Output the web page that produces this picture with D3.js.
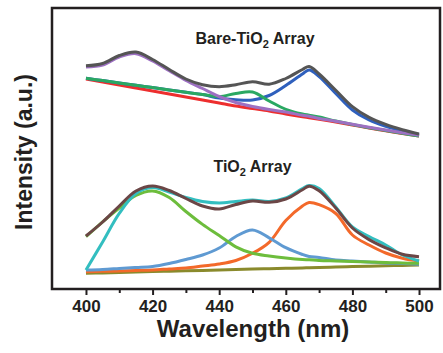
<!DOCTYPE html>
<html>
<head>
<meta charset="utf-8">
<script src="https://cdn.jsdelivr.net/npm/d3@7"></script>
<style>
  body { margin: 0; background: #fff; }
  text { font-family: "Liberation Sans", Arial, sans-serif; font-weight: bold; fill: #231f20; }
</style>
</head>
<body>
<div id="wrapper"></div>
<script>
// 1. Data (intensity in a.u.)

const wavelengths = [400, 405, 410, 415, 420, 425, 430, 435, 440, 445, 450, 455, 460, 465, 467, 470, 475, 480, 485, 490, 495, 500]

// Bare-TiO2 array (upper set)
const bareMeasured = [223.3, 225.5, 233.5, 236.9, 229.5, 219.5, 210, 204.3, 202.3, 204.3, 207.3, 204.8, 210.5, 219.5, 222.5, 215, 198.7, 182.3, 171.6, 164.6, 159.3, 155]
const barePeak415  = [222, 224, 232, 235.3, 228, 218.2, 208.6, 200.5, 192.5, 186.5, 182.5, 179.5, 177, 173.7, 172.7, 170.5, 167.8, 164.8, 161.8, 159, 156.3, 153.8]
const barePeak449  = [210.7, 208.4, 206, 203.7, 201.4, 199.1, 196.8, 194.4, 192.5, 195.5, 197, 188, 179.7, 175, 173.8, 172, 168, 164.5, 161.3, 158.5, 155.7, 153]
const barePeak467  = [210.7, 208.4, 206, 203.7, 201.4, 199.1, 196.8, 194.4, 191, 189.3, 189, 193.5, 203.5, 215, 219, 212.5, 195.5, 179, 169, 162.7, 158.2, 154]
const bareBaseline = [210, 207, 204, 201, 198, 195, 192, 189, 186, 183, 180.5, 178, 175, 172.3, 171.3, 169.7, 167, 164, 161, 158.3, 155.5, 153]

// TiO2 array (lower set)
const tio2Measured = [53, 67, 83, 98, 103, 98.5, 90.5, 83, 80, 84.5, 88, 86.7, 90, 99.3, 102.8, 98.2, 81, 61, 49.4, 41.2, 34.7, 32.3]
const tio2Fit      = [19, 47, 75.6, 95.5, 101.5, 97, 91.5, 87.5, 86, 87.5, 89, 87.5, 91, 100.5, 103.5, 100.5, 82, 62, 52.5, 44, 34, 28]
const tio2Peak420  = [52.3, 67.2, 80.9, 93.5, 98, 91.5, 77.5, 64.6, 53.5, 42.2, 35.7, 33, 31, 29.5, 29.2, 28.5, 28, 27.5, 27, 26.5, 26, 25.7]
const tio2Peak449  = [19, 19.5, 20.5, 21.5, 22.5, 25.5, 29.5, 34, 41, 52.5, 59, 51.2, 41.3, 34.5, 32.5, 31.5, 29, 28, 27, 26, 25.5, 24.7]
const tio2Peak468  = [17.3, 17.7, 18, 18.5, 19, 20, 21, 23, 25, 28.5, 35.7, 46.7, 68.5, 83, 86.5, 84.3, 75.5, 54, 44, 36, 30.8, 28]
const tio2Baseline = [15.7, 16.1, 16.5, 16.9, 17.4, 17.8, 18.2, 18.6, 19, 19.4, 19.9, 20.3, 20.7, 21.1, 21.2, 21.5, 22, 22.4, 22.8, 23.2, 23.6, 24]

const majorTicks = [400, 420, 440, 460, 480, 500]
const minorTicks = [410, 430, 450, 470, 490]

// drawing order: first listed is drawn underneath
const series = [
  { values: bareBaseline, color: "#ed2e2e" },
  { values: barePeak467,  color: "#2f60bd" },
  { values: barePeak449,  color: "#2aa862" },
  { values: barePeak415,  color: "#9d70c2" },
  { values: bareMeasured, color: "#555555" },
  { values: tio2Baseline, color: "#8a8a2c" },
  { values: tio2Peak468,  color: "#f3692a" },
  { values: tio2Peak449,  color: "#5f9ad2" },
  { values: tio2Peak420,  color: "#6dbd3c" },
  { values: tio2Fit,      color: "#33bec0" },
  { values: tio2Measured, color: "#6b4646" },
]

function drawChart() {

  // 2. Dimensions

  const dimensions = {
    width: 443,
    height: 353,
    frame: { left: 52, top: 8, right: 440, bottom: 289 },
  }

  // 3. Canvas

  const svg = d3.select("#wrapper")
    .append("svg")
      .attr("width", dimensions.width)
      .attr("height", dimensions.height)

  // 4. Scales

  const xScale = d3.scaleLinear()
    .domain([389.8, 506.3])
    .range([dimensions.frame.left, dimensions.frame.right])

  const yScale = d3.scaleLinear()
    .domain([0, 281])
    .range([dimensions.frame.bottom, dimensions.frame.top])

  // 5. Data

  const lineGenerator = d3.line()
    .x((d, i) => xScale(wavelengths[i]))
    .y(d => yScale(d))
    .curve(d3.curveCatmullRom.alpha(0.5))

  svg.append("g")
    .selectAll("path")
    .data(series)
    .join("path")
      .attr("d", d => lineGenerator(d.values))
      .attr("fill", "none")
      .attr("stroke", d => d.color)
      .attr("stroke-width", 3)
      .attr("stroke-linejoin", "round")

  // 6. Peripherals

  const f = dimensions.frame
  svg.append("rect")
      .attr("x", f.left)
      .attr("y", f.top)
      .attr("width", f.right - f.left)
      .attr("height", f.bottom - f.top)
      .attr("fill", "none")
      .attr("stroke", "#231f20")
      .attr("stroke-width", 2.5)

  const xAxis = svg.append("g")
      .attr("transform", `translate(0, ${f.bottom + 1})`)
      .call(d3.axisBottom(xScale).tickValues(majorTicks).tickSize(5).tickSizeOuter(0).tickFormat(d3.format("d")))
  xAxis.select(".domain").remove()
  xAxis.selectAll("line").attr("stroke", "#231f20").attr("stroke-width", 2)
  xAxis.selectAll("text")
      .attr("y", 10)
      .attr("dy", "0.71em")
      .style("font-size", "17px")
      .style("font-family", "'Liberation Sans', Arial, sans-serif")
      .style("font-weight", "bold")
      .attr("fill", "#231f20")

  const minorAxis = svg.append("g")
      .attr("transform", `translate(0, ${f.bottom + 1})`)
      .call(d3.axisBottom(xScale).tickValues(minorTicks).tickSize(3).tickSizeOuter(0).tickFormat(""))
  minorAxis.select(".domain").remove()
  minorAxis.selectAll("line").attr("stroke", "#231f20").attr("stroke-width", 2)

  svg.append("text")
      .attr("x", 253)
      .attr("y", 337)
      .attr("text-anchor", "middle")
      .style("font-size", "24px")
      .text("Wavelength (nm)")

  svg.append("text")
      .attr("transform", "translate(32, 152) rotate(-90)")
      .attr("text-anchor", "middle")
      .style("font-size", "23px")
      .text("Intensity (a.u.)")

  // panel titles with subscript 2
  const addTitle = (x, y, before, after) => {
    const t = svg.append("text")
        .attr("x", x)
        .attr("y", y)
        .attr("text-anchor", "middle")
        .style("font-size", "16px")
    t.append("tspan").text(before)
    t.append("tspan").attr("dy", 4).style("font-size", "11px").text("2")
    t.append("tspan").attr("dy", -4).text(after)
  }
  addTitle(255, 44, "Bare-TiO", " Array")
  addTitle(252.5, 172, "TiO", " Array")
}
drawChart()
</script>
</body>
</html>
